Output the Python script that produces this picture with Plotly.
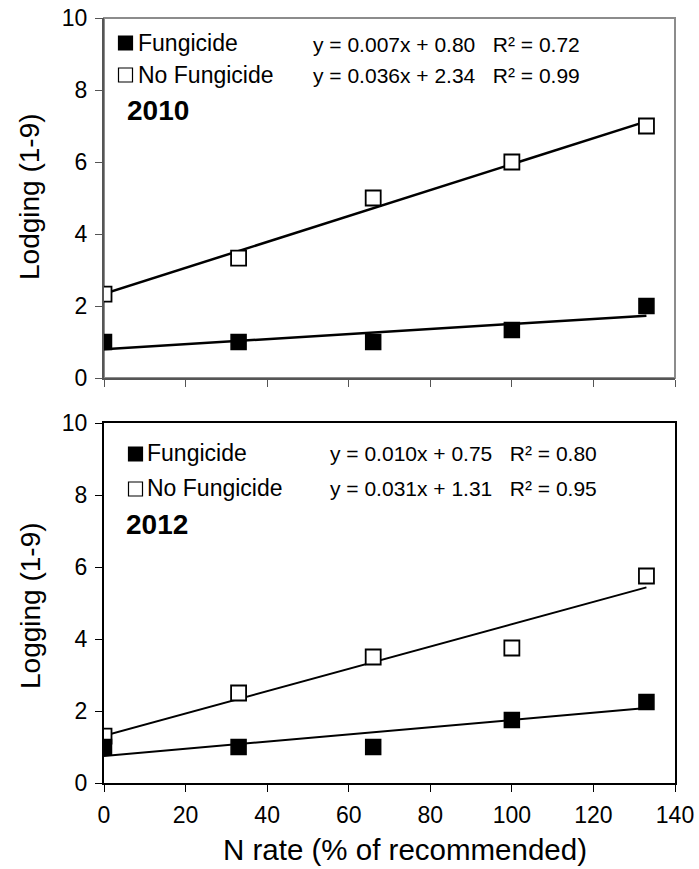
import plotly.graph_objects as go

n_rate = [0, 33, 66, 100, 133]
fung_2010 = [1.0, 1.0, 1.0, 1.33, 2.0]
nofung_2010 = [2.33, 3.33, 5.0, 6.0, 7.0]
fung_2012 = [1.0, 1.0, 1.0, 1.75, 2.25]
nofung_2012 = [1.3, 2.5, 3.5, 3.75, 5.75]

# trend line coefficients (slope, intercept) as printed on the chart
trend_2010 = {"fung": (0.007, 0.80), "nofung": (0.036, 2.34)}
trend_2012 = {"fung": (0.010, 0.75), "nofung": (0.031, 1.31)}
eq_2010 = ["y = 0.007x + 0.80   R² = 0.72", "y = 0.036x + 2.34   R² = 0.99"]
eq_2012 = ["y = 0.010x + 0.75   R² = 0.80", "y = 0.031x + 1.31   R² = 0.95"]
legend_names = ["Fungicide", "No Fungicide"]

x_ticks = [0, 20, 40, 60, 80, 100, 120, 140]
y_ticks = [0, 2, 4, 6, 8, 10]

FONT = "Liberation Sans, Arial, sans-serif"
W, H = 699, 869

fig = go.Figure()

def add_panel(fung, nofung, trend, xa, ya, lw):
    xs = [n_rate[0], n_rate[-1]]
    for key in ["nofung", "fung"]:
        m, b = trend[key]
        fig.add_trace(go.Scatter(x=xs, y=[m * v + b for v in xs], mode="lines",
                                 line=dict(color="black", width=lw),
                                 xaxis=xa, yaxis=ya, showlegend=False, hoverinfo="skip"))
    fig.add_trace(go.Scatter(x=n_rate, y=nofung, mode="markers",
                             marker=dict(symbol="square", size=15, color="white",
                                         line=dict(color="black", width=1.8)),
                             xaxis=xa, yaxis=ya, showlegend=False))
    fig.add_trace(go.Scatter(x=n_rate, y=fung, mode="markers",
                             marker=dict(symbol="square", size=15, color="black",
                                         line=dict(color="black", width=1.5)),
                             xaxis=xa, yaxis=ya, showlegend=False))

add_panel(fung_2010, nofung_2010, trend_2010, "x", "y", 2.5)
add_panel(fung_2012, nofung_2012, trend_2012, "x2", "y2", 2.0)

xdom = [104 / W, 675 / W]
top_dom = [1 - 378 / H, 1 - 18 / H]
bot_dom = [1 - 783 / H, 1 - 423 / H]

axis_common = dict(ticks="outside", ticklen=7, tickwidth=1.2, showgrid=False, zeroline=False,
                   automargin=False, ticklabelstandoff=3,
                   tickfont=dict(family=FONT, size=23, color="black"))

fig.update_layout(
    width=W, height=H, margin=dict(l=0, r=0, t=0, b=0),
    plot_bgcolor="white", paper_bgcolor="white",
    font=dict(family=FONT, color="black"),
    xaxis=dict(domain=xdom, range=[0, 140], tickvals=x_ticks, showticklabels=False,
               showline=True, linecolor="#555555", linewidth=2, tickcolor="#555555",
               anchor="y", **axis_common),
    yaxis=dict(domain=top_dom, range=[0, 10], tickvals=y_ticks,
               showline=True, linecolor="#555555", linewidth=2, tickcolor="#555555",
               anchor="x", **axis_common),
    xaxis2=dict(domain=xdom, range=[0, 140], tickvals=x_ticks, anchor="y2",
                showline=True, linecolor="black", linewidth=2, mirror=True, tickcolor="black",
                **axis_common),
    yaxis2=dict(domain=bot_dom, range=[0, 10], tickvals=y_ticks, anchor="x2",
                showline=True, linecolor="black", linewidth=2, mirror=True, tickcolor="black",
                **axis_common),
)

# gray border for the top panel (top and right edges)
fig.add_shape(type="rect", xref="x domain", yref="y domain", x0=0, x1=1, y0=0, y1=1,
              line=dict(color="#8c8c8c", width=2), layer="below")

def txt(px, py, text, size, bold=False, xanchor="left", angle=0):
    fig.add_annotation(x=px / W, y=1 - py / H, xref="paper", yref="paper",
                       text=("<b>%s</b>" % text) if bold else text,
                       showarrow=False, xanchor=xanchor, yanchor="middle", textangle=angle,
                       font=dict(family=FONT, size=size, color="black"))

def legend_box(px, py, filled):
    s = 7
    fig.add_shape(type="rect", xref="paper", yref="paper",
                  x0=(px - s) / W, x1=(px + s) / W, y0=1 - (py + s) / H, y1=1 - (py - s) / H,
                  fillcolor="black" if filled else "white",
                  line=dict(color="black", width=1.2))

# axis titles
txt(30, 197, "Lodging (1-9)", 28, xanchor="center", angle=-90)
txt(30, 606, "Logging (1-9)", 28, xanchor="center", angle=-90)
txt(405, 849, "N rate (% of recommended)", 29.5, xanchor="center")

# Panel 2010 labels
legend_box(125.5, 43, True)
legend_box(125.5, 75, False)
txt(136, 43, legend_names[0], 23)
txt(136, 75, legend_names[1], 23)
txt(125, 110, "2010", 28, bold=True)
txt(311, 44, eq_2010[0], 21)
txt(311, 75, eq_2010[1], 21)

# Panel 2012 labels
legend_box(135.5, 454, True)
legend_box(135.5, 489, False)
txt(145, 453, legend_names[0], 23)
txt(145, 488, legend_names[1], 23)
txt(124, 524, "2012", 28, bold=True)
txt(328, 453, eq_2012[0], 21)
txt(328, 488, eq_2012[1], 21)

fig.write_html("out.html")
